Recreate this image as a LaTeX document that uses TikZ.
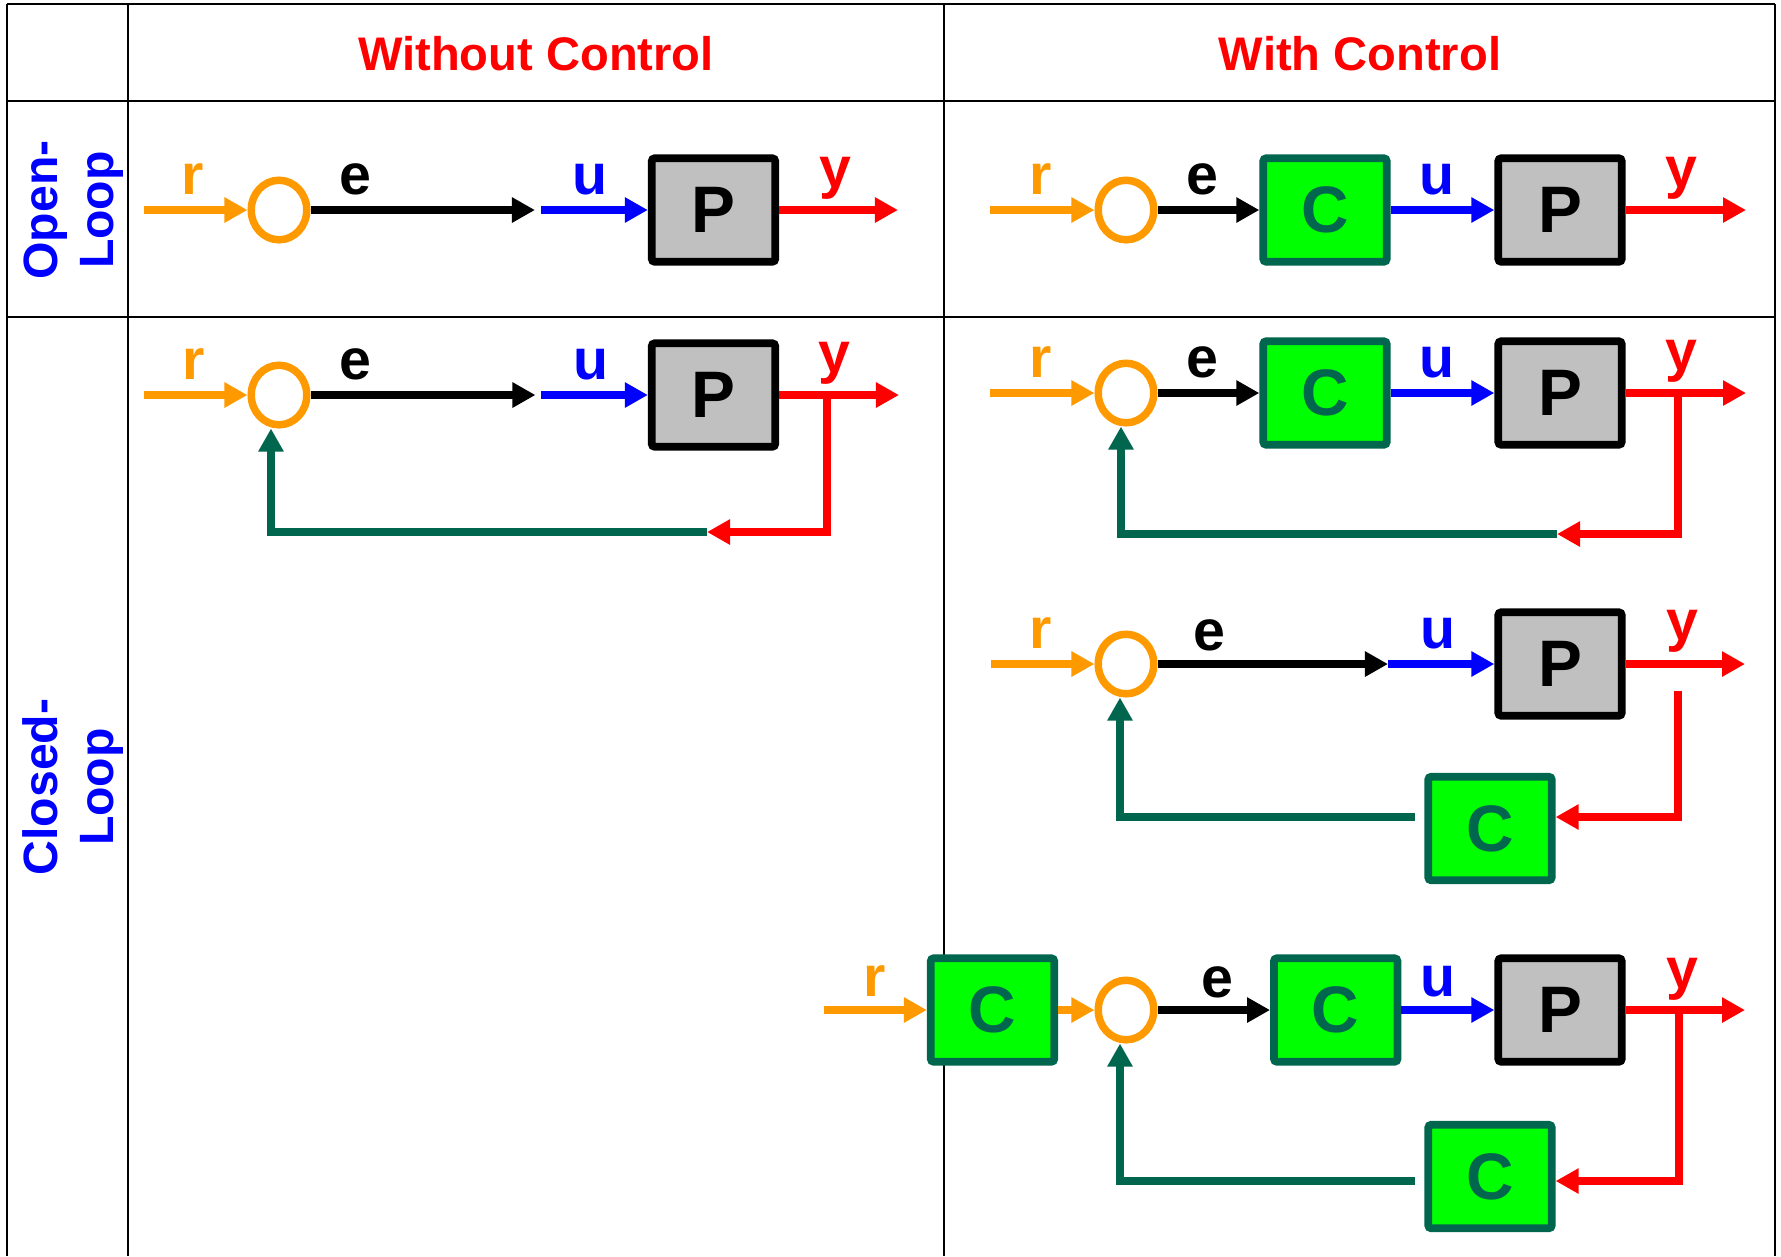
\documentclass[tikz,border=0pt]{standalone}
\usepackage{fontspec}
\setmainfont{Liberation Sans}
\usetikzlibrary{arrows.meta,shapes.geometric}
\definecolor{corange}{RGB}{255,153,0}
\definecolor{cred}{RGB}{255,0,0}
\definecolor{cblue}{RGB}{0,0,255}
\definecolor{cdgreen}{RGB}{0,102,77}
\definecolor{cgreen}{RGB}{0,255,0}
\definecolor{cgray}{RGB}{192,192,192}
\begin{document}
\begin{tikzpicture}[x=0.01cm,y=-0.01cm,
  grid/.style={line width=0.025cm,black},
  sig/.style={line width=0.08cm,-{Triangle[length=0.23cm,width=0.24cm]}},
  sumnode/.style={ellipse,draw=corange,line width=0.075cm,minimum width=0.555cm,minimum height=0.595cm,inner sep=0pt},
  pbox/.style={draw=black,fill=cgray,line width=0.077cm,minimum width=1.235cm,minimum height=1.035cm,rounded corners=0.03cm,font=\fontsize{18.7}{20}\selectfont\bfseries,text=black,inner sep=0pt},
  cbox/.style={pbox,draw=cdgreen,fill=cgreen,text=cdgreen},
  lbl/.style={anchor=base,font=\fontsize{16.3}{18}\selectfont\bfseries,inner sep=0pt},
  head/.style={anchor=base,text=cred,font=\fontsize{13.4}{16}\selectfont\bfseries,inner sep=0pt},
  rowlbl/.style={rotate=90,align=center,text=cblue,font=\fontsize{13.7}{15.9}\selectfont\bfseries,inner sep=0pt},
]
\useasboundingbox (0,0) rectangle (1781,1256);
% table
\draw[grid] (7,4) -- (1775,4);
\draw[grid] (7,101) -- (1775,101);
\draw[grid] (7,317) -- (1775,317);
\draw[grid] (7,4) -- (7,1256);
\draw[grid] (128,4) -- (128,1256);
\draw[grid] (944,4) -- (944,1256);
\draw[grid] (1775,4) -- (1775,1256);
% headers
\node[head] (h1) at (536,70.5) {Without Control};
\node[head] (h2) at (1360,70.5) {With Control};
\node[rowlbl] (rl1) at (73.5,210) {Open-\\Loop};
\node[rowlbl] (rl2) at (73.5,787) {Closed-\\Loop};

% ---- Row 1 left: open loop, no control
\node[sumnode] (s1) at (279,210) {};
\node[pbox] (p1) at (713.5,210) {P};
\coordinate (r1) at (143.5,210);
\coordinate (e1) at (535,210);
\coordinate (u1) at (541,210);
\coordinate (y1) at (898,210);
\draw[sig,corange] (r1) -- (s1);
\draw[sig,black] (s1) -- (e1);
\draw[sig,cblue] (u1) -- (p1);
\draw[sig,cred] (p1) -- (y1);
\node[lbl,text=corange] (lr1) at (193,194) {r};
\node[lbl,text=black] (le1) at (355,194) {e};
\node[lbl,text=cblue] (lu1) at (590,194) {u};
\node[lbl,text=cred] (ly1) at (835,187) {y};

% ---- Row 2 left: closed loop, no control
\node[sumnode] (s2) at (279,395) {};
\node[pbox] (p2) at (713.5,395) {P};
\coordinate (r2) at (144,395);
\coordinate (e2) at (535.5,395);
\coordinate (u2) at (541,395);
\coordinate (y2) at (899,395);
\coordinate (b2) at (826.5,395);
\coordinate (k2) at (826.5,532);
\coordinate (t2) at (707,532);
\coordinate (g2) at (271,532);
\draw[sig,corange] (r2) -- (s2);
\draw[sig,black] (s2) -- (e2);
\draw[sig,cblue] (u2) -- (p2);
\draw[sig,cred] (p2) -- (y2);
\draw[sig,cred] (b2) -- (k2) -- (t2);
\draw[sig,cdgreen] (t2) -- (g2) -- (g2 |- s2.south);
\node[lbl,text=corange] (lr2) at (194,379) {r};
\node[lbl,text=black] (le2) at (355,379) {e};
\node[lbl,text=cblue] (lu2) at (591,379) {u};
\node[lbl,text=cred] (ly2) at (834,372) {y};

% ---- Row 1 right: open loop with controller
\node[sumnode] (s4) at (1126,210) {};
\node[cbox] (c4) at (1325,210) {C};
\node[pbox] (p4) at (1560,210) {P};
\coordinate (r4) at (990,210);
\coordinate (y4) at (1746,210);
\draw[sig,corange] (r4) -- (s4);
\draw[sig,black] (s4) -- (c4);
\draw[sig,cblue] (c4) -- (p4);
\draw[sig,cred] (p4) -- (y4);
\node[lbl,text=corange] (lr4) at (1041,194) {r};
\node[lbl,text=black] (le4) at (1202,194) {e};
\node[lbl,text=cblue] (lu4) at (1437,194) {u};
\node[lbl,text=cred] (ly4) at (1681,187) {y};

% ---- Row 2 right: closed loop with controller
\node[sumnode] (s3) at (1126,393) {};
\node[cbox] (c3) at (1325,393) {C};
\node[pbox] (p3) at (1560,393) {P};
\coordinate (r3) at (990,393);
\coordinate (y3) at (1746,393);
\coordinate (b3) at (1677.5,393);
\coordinate (k3) at (1677.5,534);
\coordinate (t3) at (1557,534);
\coordinate (g3) at (1121,534);
\draw[sig,corange] (r3) -- (s3);
\draw[sig,black] (s3) -- (c3);
\draw[sig,cblue] (c3) -- (p3);
\draw[sig,cred] (p3) -- (y3);
\draw[sig,cred] (b3) -- (k3) -- (t3);
\draw[sig,cdgreen] (t3) -- (g3) -- (g3 |- s3.south);
\node[lbl,text=corange] (lr3) at (1041,377) {r};
\node[lbl,text=black] (le3) at (1202,377) {e};
\node[lbl,text=cblue] (lu3) at (1437,377) {u};
\node[lbl,text=cred] (ly3) at (1681,370) {y};

% ---- Row 3 right: controller in feedback
\node[sumnode] (s5) at (1126,664) {};
\node[pbox] (p5) at (1560,664) {P};
\node[cbox] (f5) at (1490,828.5) {C};
\coordinate (r5) at (991,664);
\coordinate (e5) at (1388,664);
\coordinate (y5) at (1745,664);
\coordinate (b5) at (1678,691);
\coordinate (k5) at (1678,817);
\coordinate (gs5) at (1415,817);
\coordinate (g5) at (1120,817);
\draw[sig,corange] (r5) -- (s5);
\draw[sig,black] (s5) -- (e5);
\draw[sig,cblue] (e5) -- (p5);
\draw[sig,cred] (p5) -- (y5);
\draw[sig,cred] (b5) -- (k5) -- (f5.east |- k5);
\draw[sig,cdgreen] (gs5) -- (g5) -- (g5 |- s5.south);
\node[lbl,text=corange] (lr5) at (1041,648) {r};
\node[lbl,text=black] (le5) at (1209,650) {e};
\node[lbl,text=cblue] (lu5) at (1438,648) {u};
\node[lbl,text=cred] (ly5) at (1682,640) {y};

% ---- Row 4 right: prefilter, controller, feedback controller
\node[cbox] (c6a) at (992.5,1010) {C};
\node[sumnode] (s6) at (1126,1010) {};
\node[cbox] (c6b) at (1335.7,1010) {C};
\node[pbox] (p6) at (1560,1010) {P};
\node[cbox] (f6) at (1490,1176.5) {C};
\coordinate (r6) at (824,1010);
\coordinate (y6) at (1745,1010);
\coordinate (b6) at (1679,1010);
\coordinate (k6) at (1679,1181);
\coordinate (gs6) at (1415,1181);
\coordinate (g6) at (1120,1181);
\draw[sig,corange] (r6) -- (c6a);
\draw[sig,corange] (c6a) -- (s6);
\draw[sig,black] (s6) -- (c6b);
\draw[sig,cblue] (c6b) -- (p6);
\draw[sig,cred] (p6) -- (y6);
\draw[sig,cred] (b6) -- (k6) -- (f6.east |- k6);
\draw[sig,cdgreen] (gs6) -- (g6) -- (g6 |- s6.south);
\node[lbl,text=corange] (lr6) at (874.5,996) {r};
\node[lbl,text=black] (le6) at (1217,997) {e};
\node[lbl,text=cblue] (lu6) at (1438,996) {u};
\node[lbl,text=cred] (ly6) at (1682,988) {y};
\end{tikzpicture}
\end{document}
